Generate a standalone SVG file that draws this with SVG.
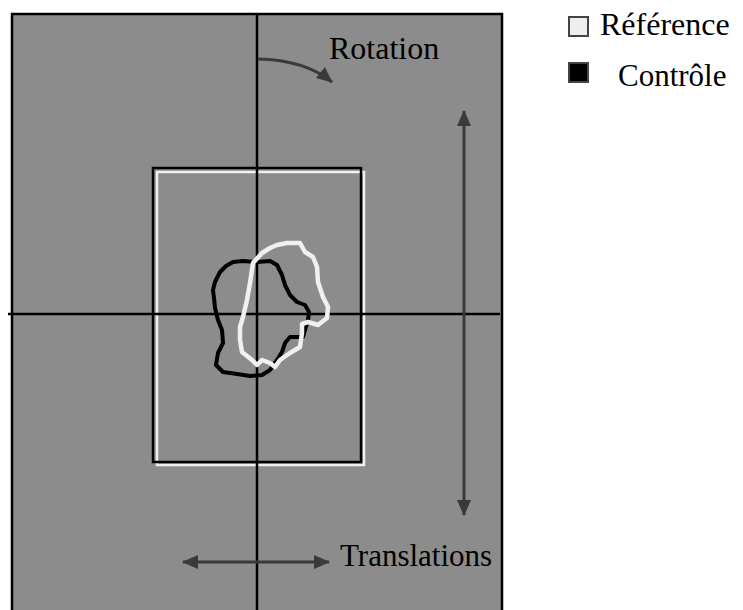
<svg xmlns="http://www.w3.org/2000/svg" width="743" height="610" viewBox="0 0 743 610">
<style>
.lbl{font-family:"Liberation Serif","Times New Roman",serif;fill:#000}
.axis{stroke:#000;stroke-width:2.5;fill:none}
.arr{stroke:#3a3a3a;stroke-width:3;fill:none}
</style>
<defs>
<marker id="ah" viewBox="0 0 16 14" refX="15" refY="7" markerWidth="16" markerHeight="14" markerUnits="userSpaceOnUse" orient="auto-start-reverse">
<path d="M0,0 L16,7 L0,14 Z" fill="#3a3a3a"/>
</marker>
</defs>
<rect width="743" height="610" fill="#fff"/>
<g id="frame">
<rect x="12" y="14" width="490" height="600" fill="#8c8c8c" stroke="#000" stroke-width="2.5"/>
</g>
<g id="window">
<rect x="157" y="172" width="207" height="293" fill="none" stroke="#f0f0f0" stroke-width="2.5"/>
<rect x="153" y="168" width="208" height="294" fill="none" stroke="#000" stroke-width="2.5"/>
</g>
<g id="axes">
<line class="axis" x1="257" y1="14" x2="257" y2="610"/>
<line class="axis" x1="8" y1="314" x2="500" y2="314"/>
</g>
<g id="controle-shape">
<path d="M213,290 L215,282 L220,272 L226,266 L233,262 L243,261 L257,262 L270,261 L277,265 L282,275 L285,285 L290,295 L297,302 L305,305 L309,312 L308,320 L305,330 L303,337 L290,337 L285,343 L282,352 L277,360 L270,370 L262,375 L250,376 L237,374 L223,372 L216,365 L218,353 L223,343 L222,330 L218,320 L215,308 L214,298 Z" fill="none" stroke="#000" stroke-width="4" stroke-linejoin="round"/>
</g>
<g id="reference-shape">
<path d="M287,243 L300,243 L305,252 L313,257 L317,267 L318,282 L323,297 L328,307 L327,318 L318,325 L308,322 L302,324 L302,333 L300,347 L290,353 L280,360 L275,367 L270,363 L262,360 L257,365 L252,360 L242,352 L240,340 L240,327 L243,317 L247,300 L250,283 L253,263 L262,253 L270,248 L277,245 Z" fill="none" stroke="#f0f0f0" stroke-width="4.5" stroke-linejoin="round"/>
</g>
<g id="connectors">
<path class="arr" d="M258,59 Q305,60 332,82" marker-end="url(#ah)"/>
<line class="arr" x1="464" y1="111" x2="464" y2="515" marker-start="url(#ah)" marker-end="url(#ah)"/>
<line class="arr" x1="183" y1="562" x2="329" y2="562" marker-start="url(#ah)" marker-end="url(#ah)"/>
</g>
<g id="rotation-label"><text class="lbl" x="329" y="59" font-size="32">Rotation</text></g>
<g id="translations-label"><text class="lbl" x="340" y="566" font-size="31">Translations</text></g>
<g id="legend">
<rect x="569" y="17" width="19" height="19" fill="#eeeeee" stroke="#444" stroke-width="2"/>
<text class="lbl" x="600" y="35" font-size="32">Référence</text>
<rect x="569" y="63" width="19" height="19" fill="#000" stroke="#444" stroke-width="2"/>
<text class="lbl" x="618" y="86" font-size="31">Contrôle</text>
</g>
</svg>
